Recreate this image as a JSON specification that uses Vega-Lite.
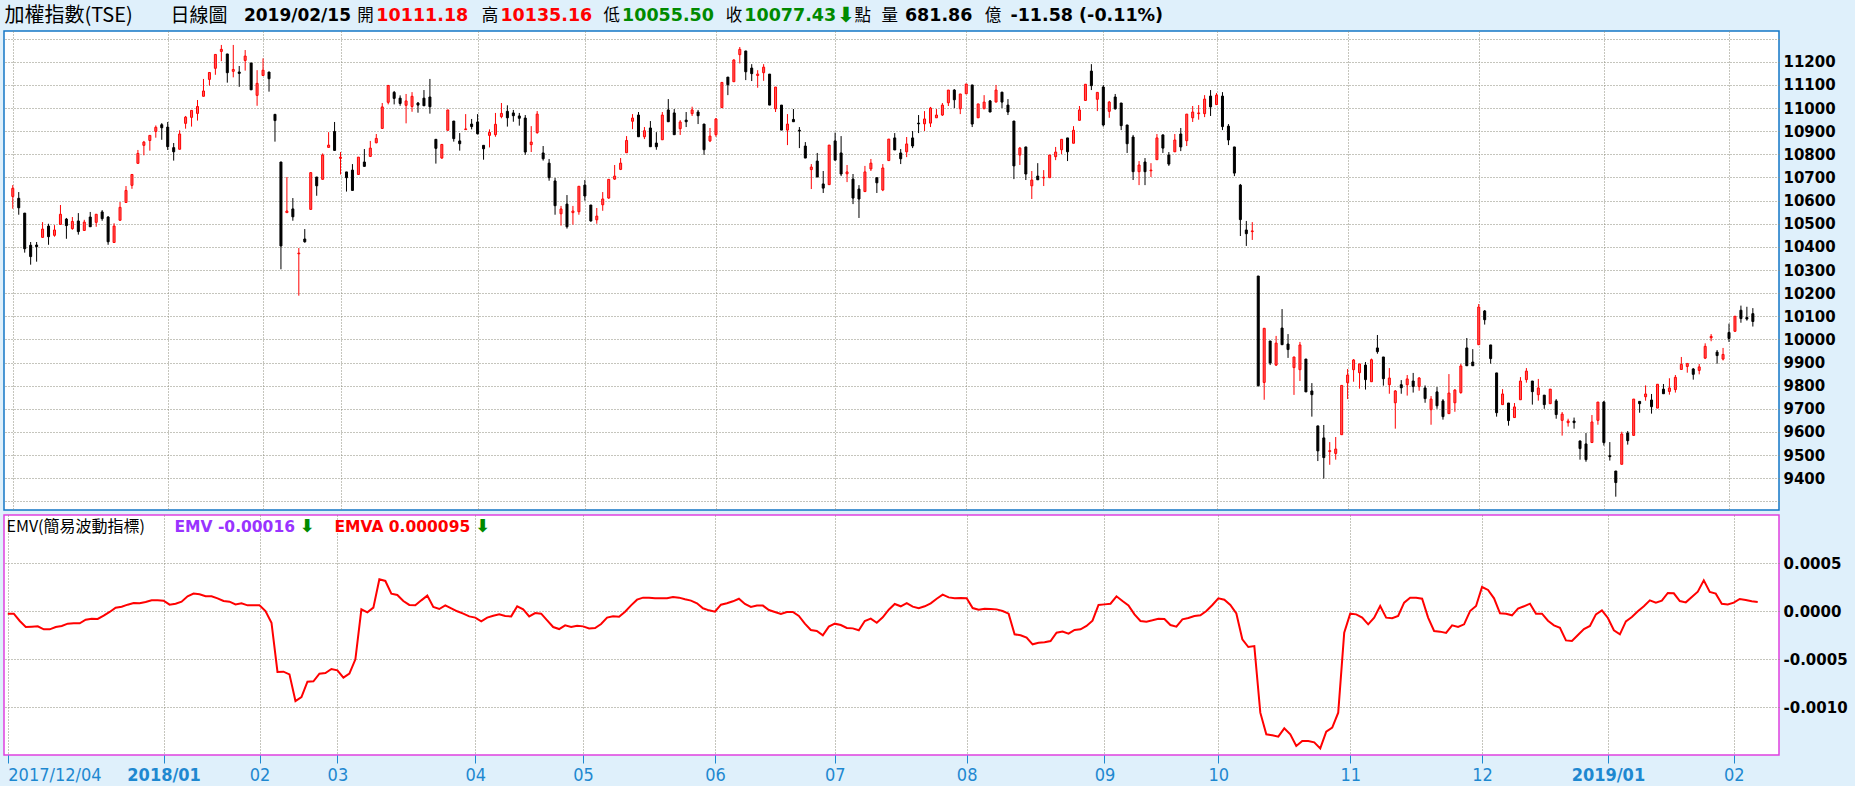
{
"$schema": "https://vega.github.io/schema/vega-lite/v6.json",
"background": "#dff0fb",
"padding": {"left": 3, "top": 0, "right": 12, "bottom": 10},
"spacing": 3,
"config": {"axis": {"gridColor": "#8a8a7a", "gridDash": [1, 2], "gridWidth": 1}, "text": {"align": "left", "baseline": "middle"}},
"datasets": {
"quote": [{"name": "加權指數(TSE)", "period": "日線圖", "date": "2019/02/15", "open": "10111.18", "high": "10135.16", "low": "10055.50", "close": "10077.43", "volume": "681.86", "change": "-11.58 (-0.11%)", "indicator": "EMV(簡易波動指標)", "emvText": "EMV -0.00016", "emvaText": "EMVA 0.000095"}],
"ohlc": [
{"i":0,"o":10618,"h":10667,"l":10565,"c":10653},{"i":1,"o":10610,"h":10637,"l":10539,"c":10569},{"i":2,"o":10546,"h":10546,"l":10375,"c":10392},{"i":3,"o":10407,"h":10421,"l":10323,"c":10358},{"i":4,"o":10408,"h":10421,"l":10336,"c":10401},{"i":5,"o":10441,"h":10507,"l":10441,"c":10477},{"i":6,"o":10490,"h":10500,"l":10409,"c":10444},{"i":7,"o":10450,"h":10494,"l":10444,"c":10473},{"i":8,"o":10497,"h":10581,"l":10497,"c":10541},{"i":9,"o":10520,"h":10525,"l":10435,"c":10492},
{"i":10,"o":10479,"h":10529,"l":10474,"c":10510},{"i":11,"o":10512,"h":10546,"l":10453,"c":10466},{"i":12,"o":10471,"h":10517,"l":10471,"c":10507},{"i":13,"o":10529,"h":10551,"l":10487,"c":10487},{"i":14,"o":10506,"h":10541,"l":10487,"c":10541},{"i":15,"o":10551,"h":10559,"l":10513,"c":10522},{"i":16,"o":10529,"h":10533,"l":10409,"c":10422},{"i":17,"o":10419,"h":10502,"l":10419,"c":10490},{"i":18,"o":10515,"h":10594,"l":10515,"c":10571},{"i":19,"o":10592,"h":10663,"l":10592,"c":10644},
{"i":20,"o":10666,"h":10713,"l":10651,"c":10713},{"i":21,"o":10761,"h":10819,"l":10761,"c":10804},{"i":22,"o":10839,"h":10858,"l":10796,"c":10853},{"i":23,"o":10860,"h":10882,"l":10816,"c":10882},{"i":24,"o":10899,"h":10925,"l":10872,"c":10917},{"i":25,"o":10928,"h":10935,"l":10863,"c":10915},{"i":26,"o":10918,"h":10940,"l":10819,"c":10833},{"i":27,"o":10829,"h":10849,"l":10773,"c":10811},{"i":28,"o":10822,"h":10904,"l":10822,"c":10888},{"i":29,"o":10934,"h":10966,"l":10911,"c":10961},
{"i":30,"o":10960,"h":10990,"l":10920,"c":10990},{"i":31,"o":10977,"h":11035,"l":10946,"c":11007},{"i":32,"o":11051,"h":11126,"l":11051,"c":11074},{"i":33,"o":11124,"h":11154,"l":11097,"c":11154},{"i":34,"o":11172,"h":11232,"l":11144,"c":11232},{"i":35,"o":11245,"h":11273,"l":11203,"c":11254},{"i":36,"o":11234,"h":11234,"l":11110,"c":11153},{"i":37,"o":11159,"h":11273,"l":11133,"c":11167},{"i":38,"o":11156,"h":11182,"l":11092,"c":11150},{"i":39,"o":11206,"h":11251,"l":11162,"c":11225},
{"i":40,"o":11195,"h":11195,"l":11079,"c":11079},{"i":41,"o":11055,"h":11164,"l":11010,"c":11107},{"i":42,"o":11141,"h":11215,"l":11141,"c":11164},{"i":43,"o":11156,"h":11156,"l":11071,"c":11127},{"i":44,"o":10973,"h":10973,"l":10855,"c":10946},{"i":45,"o":10767,"h":10767,"l":10303,"c":10404},{"i":46,"o":10548,"h":10702,"l":10548,"c":10555},{"i":47,"o":10564,"h":10611,"l":10513,"c":10530},{"i":48,"o":10370,"h":10395,"l":10189,"c":10373},{"i":49,"o":10434,"h":10477,"l":10418,"c":10422},
{"i":50,"o":10562,"h":10723,"l":10562,"c":10721},{"i":51,"o":10702,"h":10702,"l":10621,"c":10664},{"i":52,"o":10692,"h":10804,"l":10692,"c":10797},{"i":53,"o":10830,"h":10896,"l":10830,"c":10840},{"i":54,"o":10899,"h":10940,"l":10817,"c":10817},{"i":55,"o":10783,"h":10810,"l":10713,"c":10788},{"i":56,"o":10724,"h":10724,"l":10639,"c":10699},{"i":57,"o":10732,"h":10758,"l":10644,"c":10644},{"i":58,"o":10713,"h":10788,"l":10713,"c":10788},{"i":59,"o":10767,"h":10823,"l":10748,"c":10748},
{"i":60,"o":10791,"h":10858,"l":10791,"c":10827},{"i":61,"o":10850,"h":10888,"l":10848,"c":10869},{"i":62,"o":10912,"h":11022,"l":10912,"c":11005},{"i":63,"o":11025,"h":11098,"l":11016,"c":11098},{"i":64,"o":11068,"h":11074,"l":11016,"c":11042},{"i":65,"o":11043,"h":11055,"l":11010,"c":11020},{"i":66,"o":11012,"h":11061,"l":10934,"c":11031},{"i":67,"o":11007,"h":11069,"l":10984,"c":11051},{"i":68,"o":11022,"h":11026,"l":10980,"c":11013},{"i":69,"o":11043,"h":11078,"l":11010,"c":11010},
{"i":70,"o":11048,"h":11126,"l":10976,"c":11006},{"i":71,"o":10865,"h":10865,"l":10760,"c":10826},{"i":72,"o":10784,"h":10843,"l":10781,"c":10843},{"i":73,"o":10904,"h":10992,"l":10904,"c":10992},{"i":74,"o":10944,"h":10944,"l":10855,"c":10868},{"i":75,"o":10858,"h":10892,"l":10816,"c":10846},{"i":76,"o":10907,"h":10974,"l":10907,"c":10910},{"i":77,"o":10931,"h":10953,"l":10908,"c":10920},{"i":78,"o":10940,"h":10974,"l":10886,"c":10889},{"i":79,"o":10839,"h":10839,"l":10777,"c":10824},
{"i":80,"o":10882,"h":10908,"l":10830,"c":10895},{"i":81,"o":10885,"h":10979,"l":10876,"c":10930},{"i":82,"o":10963,"h":11022,"l":10956,"c":10977},{"i":83,"o":10986,"h":11012,"l":10920,"c":10958},{"i":84,"o":10979,"h":10992,"l":10941,"c":10967},{"i":85,"o":10966,"h":10979,"l":10924,"c":10956},{"i":86,"o":10957,"h":10970,"l":10798,"c":10810},{"i":87,"o":10842,"h":10922,"l":10810,"c":10853},{"i":88,"o":10894,"h":10987,"l":10889,"c":10974},{"i":89,"o":10806,"h":10836,"l":10773,"c":10781},
{"i":90,"o":10762,"h":10780,"l":10686,"c":10699},{"i":91,"o":10685,"h":10698,"l":10539,"c":10578},{"i":92,"o":10543,"h":10577,"l":10492,"c":10564},{"i":93,"o":10585,"h":10624,"l":10479,"c":10487},{"i":94,"o":10548,"h":10577,"l":10496,"c":10555},{"i":95,"o":10552,"h":10662,"l":10539,"c":10662},{"i":96,"o":10667,"h":10689,"l":10600,"c":10620},{"i":97,"o":10581,"h":10581,"l":10509,"c":10512},{"i":98,"o":10517,"h":10568,"l":10500,"c":10533},{"i":99,"o":10582,"h":10637,"l":10556,"c":10607},
{"i":100,"o":10611,"h":10692,"l":10608,"c":10692},{"i":101,"o":10693,"h":10754,"l":10690,"c":10706},{"i":102,"o":10735,"h":10784,"l":10732,"c":10762},{"i":103,"o":10807,"h":10879,"l":10807,"c":10860},{"i":104,"o":10943,"h":10974,"l":10909,"c":10957},{"i":105,"o":10970,"h":10983,"l":10876,"c":10876},{"i":106,"o":10876,"h":10918,"l":10866,"c":10902},{"i":107,"o":10914,"h":10944,"l":10833,"c":10833},{"i":108,"o":10849,"h":10896,"l":10820,"c":10833},{"i":109,"o":10863,"h":10983,"l":10863,"c":10970},
{"i":110,"o":10992,"h":11039,"l":10941,"c":10941},{"i":111,"o":10979,"h":10996,"l":10885,"c":10885},{"i":112,"o":10911,"h":10948,"l":10884,"c":10940},{"i":113,"o":10948,"h":10983,"l":10918,"c":10941},{"i":114,"o":10976,"h":11006,"l":10966,"c":10992},{"i":115,"o":10983,"h":10992,"l":10931,"c":10967},{"i":116,"o":10931,"h":10931,"l":10798,"c":10820},{"i":117,"o":10858,"h":10914,"l":10853,"c":10879},{"i":118,"o":10885,"h":10957,"l":10876,"c":10953},{"i":119,"o":11002,"h":11111,"l":11002,"c":11111},
{"i":120,"o":11134,"h":11134,"l":11056,"c":11101},{"i":121,"o":11114,"h":11211,"l":11114,"c":11208},{"i":122,"o":11231,"h":11264,"l":11193,"c":11254},{"i":123,"o":11247,"h":11247,"l":11121,"c":11157},{"i":124,"o":11173,"h":11190,"l":11117,"c":11149},{"i":125,"o":11141,"h":11164,"l":11088,"c":11147},{"i":126,"o":11153,"h":11190,"l":11118,"c":11177},{"i":127,"o":11147,"h":11147,"l":11013,"c":11013},{"i":128,"o":10997,"h":11091,"l":10983,"c":11091},{"i":129,"o":11013,"h":11013,"l":10905,"c":10905},
{"i":130,"o":10905,"h":10974,"l":10840,"c":10931},{"i":131,"o":10951,"h":10996,"l":10941,"c":10941},{"i":132,"o":10904,"h":10918,"l":10827,"c":10901},{"i":133,"o":10836,"h":10853,"l":10784,"c":10784},{"i":134,"o":10734,"h":10758,"l":10650,"c":10745},{"i":135,"o":10771,"h":10806,"l":10702,"c":10702},{"i":136,"o":10672,"h":10728,"l":10633,"c":10654},{"i":137,"o":10669,"h":10840,"l":10669,"c":10840},{"i":138,"o":10858,"h":10894,"l":10775,"c":10775},{"i":139,"o":10806,"h":10879,"l":10706,"c":10715},
{"i":140,"o":10716,"h":10754,"l":10680,"c":10724},{"i":141,"o":10693,"h":10715,"l":10585,"c":10611},{"i":142,"o":10650,"h":10667,"l":10525,"c":10607},{"i":143,"o":10639,"h":10750,"l":10639,"c":10724},{"i":144,"o":10737,"h":10780,"l":10728,"c":10762},{"i":145,"o":10699,"h":10699,"l":10633,"c":10677},{"i":146,"o":10646,"h":10758,"l":10641,"c":10741},{"i":147,"o":10773,"h":10866,"l":10773,"c":10866},{"i":148,"o":10871,"h":10892,"l":10819,"c":10819},{"i":149,"o":10806,"h":10823,"l":10758,"c":10781},
{"i":150,"o":10811,"h":10875,"l":10788,"c":10845},{"i":151,"o":10871,"h":10901,"l":10827,"c":10836},{"i":152,"o":10935,"h":10970,"l":10892,"c":10932},{"i":153,"o":10932,"h":10987,"l":10901,"c":10953},{"i":154,"o":10935,"h":11005,"l":10918,"c":11000},{"i":155,"o":10958,"h":10996,"l":10958,"c":10970},{"i":156,"o":10970,"h":11022,"l":10966,"c":11013},{"i":157,"o":11023,"h":11078,"l":11009,"c":11078},{"i":158,"o":11078,"h":11082,"l":11000,"c":11036},{"i":159,"o":10997,"h":11061,"l":10974,"c":11061},
{"i":160,"o":11062,"h":11104,"l":11062,"c":11104},{"i":161,"o":11100,"h":11100,"l":10918,"c":10931},{"i":162,"o":10958,"h":11018,"l":10958,"c":11018},{"i":163,"o":10997,"h":11056,"l":10997,"c":11026},{"i":164,"o":11031,"h":11035,"l":10983,"c":10983},{"i":165,"o":11026,"h":11100,"l":11026,"c":11078},{"i":166,"o":11069,"h":11069,"l":11000,"c":11026},{"i":167,"o":11013,"h":11039,"l":10970,"c":10983},{"i":168,"o":10944,"h":10944,"l":10693,"c":10750},{"i":169,"o":10797,"h":10832,"l":10754,"c":10827},
{"i":170,"o":10832,"h":10832,"l":10689,"c":10715},{"i":171,"o":10664,"h":10728,"l":10607,"c":10689},{"i":172,"o":10706,"h":10762,"l":10690,"c":10690},{"i":173,"o":10698,"h":10732,"l":10663,"c":10701},{"i":174,"o":10699,"h":10797,"l":10699,"c":10797},{"i":175,"o":10790,"h":10832,"l":10775,"c":10810},{"i":176,"o":10820,"h":10865,"l":10801,"c":10865},{"i":177,"o":10871,"h":10871,"l":10771,"c":10811},{"i":178,"o":10848,"h":10922,"l":10848,"c":10904},{"i":179,"o":10947,"h":11009,"l":10947,"c":10992},
{"i":180,"o":11033,"h":11103,"l":11033,"c":11103},{"i":181,"o":11160,"h":11190,"l":11078,"c":11097},{"i":182,"o":11038,"h":11068,"l":10987,"c":11068},{"i":183,"o":11091,"h":11100,"l":10920,"c":10927},{"i":184,"o":10986,"h":11031,"l":10958,"c":11026},{"i":185,"o":11048,"h":11061,"l":10993,"c":10997},{"i":186,"o":11022,"h":11022,"l":10905,"c":10924},{"i":187,"o":10927,"h":10927,"l":10806,"c":10846},{"i":188,"o":10875,"h":10884,"l":10689,"c":10725},{"i":189,"o":10725,"h":10771,"l":10667,"c":10754},
{"i":190,"o":10767,"h":10784,"l":10667,"c":10725},{"i":191,"o":10729,"h":10762,"l":10702,"c":10732},{"i":192,"o":10777,"h":10888,"l":10777,"c":10871},{"i":193,"o":10884,"h":10886,"l":10806,"c":10827},{"i":194,"o":10797,"h":10810,"l":10750,"c":10758},{"i":195,"o":10811,"h":10888,"l":10811,"c":10862},{"i":196,"o":10888,"h":10914,"l":10814,"c":10832},{"i":197,"o":10859,"h":10974,"l":10836,"c":10974},{"i":198,"o":10958,"h":11009,"l":10940,"c":10983},{"i":199,"o":10976,"h":11013,"l":10950,"c":10979},
{"i":200,"o":10976,"h":11056,"l":10961,"c":11039},{"i":201,"o":11052,"h":11078,"l":10966,"c":11005},{"i":202,"o":11015,"h":11065,"l":11015,"c":11056},{"i":203,"o":11052,"h":11069,"l":10905,"c":10920},{"i":204,"o":10922,"h":10931,"l":10840,"c":10862},{"i":205,"o":10832,"h":10832,"l":10706,"c":10719},{"i":206,"o":10667,"h":10672,"l":10447,"c":10518},{"i":207,"o":10473,"h":10512,"l":10404,"c":10457},{"i":208,"o":10466,"h":10507,"l":10430,"c":10469},{"i":209,"o":10274,"h":10274,"l":9796,"c":9800},
{"i":210,"o":9814,"h":10048,"l":9739,"c":10048},{"i":211,"o":9993,"h":9993,"l":9889,"c":9898},{"i":212,"o":9889,"h":10015,"l":9885,"c":9984},{"i":213,"o":10049,"h":10131,"l":9977,"c":9977},{"i":214,"o":9980,"h":10023,"l":9920,"c":9956},{"i":215,"o":9878,"h":9924,"l":9760,"c":9924},{"i":216,"o":9869,"h":9989,"l":9820,"c":9976},{"i":217,"o":9915,"h":9915,"l":9773,"c":9773},{"i":218,"o":9777,"h":9811,"l":9666,"c":9761},{"i":219,"o":9626,"h":9626,"l":9474,"c":9518},
{"i":220,"o":9574,"h":9630,"l":9398,"c":9489},{"i":221,"o":9515,"h":9556,"l":9458,"c":9519},{"i":222,"o":9507,"h":9578,"l":9480,"c":9526},{"i":223,"o":9588,"h":9801,"l":9588,"c":9801},{"i":224,"o":9813,"h":9872,"l":9742,"c":9846},{"i":225,"o":9869,"h":9915,"l":9817,"c":9911},{"i":226,"o":9856,"h":9894,"l":9787,"c":9894},{"i":227,"o":9889,"h":9902,"l":9783,"c":9826},{"i":228,"o":9817,"h":9917,"l":9817,"c":9912},{"i":229,"o":9963,"h":10019,"l":9938,"c":9947},
{"i":230,"o":9924,"h":9924,"l":9800,"c":9830},{"i":231,"o":9804,"h":9876,"l":9765,"c":9833},{"i":232,"o":9726,"h":9781,"l":9614,"c":9777},{"i":233,"o":9804,"h":9824,"l":9765,"c":9791},{"i":234,"o":9804,"h":9846,"l":9757,"c":9829},{"i":235,"o":9820,"h":9855,"l":9770,"c":9796},{"i":236,"o":9796,"h":9837,"l":9778,"c":9833},{"i":237,"o":9790,"h":9801,"l":9726,"c":9744},{"i":238,"o":9696,"h":9755,"l":9631,"c":9742},{"i":239,"o":9773,"h":9794,"l":9700,"c":9713},
{"i":240,"o":9734,"h":9742,"l":9653,"c":9666},{"i":241,"o":9679,"h":9850,"l":9679,"c":9768},{"i":242,"o":9726,"h":9785,"l":9687,"c":9781},{"i":243,"o":9770,"h":9894,"l":9765,"c":9885},{"i":244,"o":9963,"h":10006,"l":9886,"c":9886},{"i":245,"o":9902,"h":9958,"l":9886,"c":9886},{"i":246,"o":9977,"h":10153,"l":9977,"c":10140},{"i":247,"o":10123,"h":10127,"l":10064,"c":10085},{"i":248,"o":9976,"h":9976,"l":9895,"c":9917},{"i":249,"o":9855,"h":9855,"l":9666,"c":9683},
{"i":250,"o":9718,"h":9785,"l":9718,"c":9764},{"i":251,"o":9725,"h":9725,"l":9627,"c":9649},{"i":252,"o":9662,"h":9725,"l":9662,"c":9708},{"i":253,"o":9739,"h":9837,"l":9739,"c":9820},{"i":254,"o":9826,"h":9876,"l":9813,"c":9863},{"i":255,"o":9820,"h":9820,"l":9718,"c":9774},{"i":256,"o":9761,"h":9829,"l":9735,"c":9790},{"i":257,"o":9759,"h":9759,"l":9700,"c":9718},{"i":258,"o":9722,"h":9785,"l":9722,"c":9785},{"i":259,"o":9734,"h":9742,"l":9657,"c":9675},
{"i":260,"o":9650,"h":9686,"l":9584,"c":9677},{"i":261,"o":9640,"h":9657,"l":9623,"c":9647},{"i":262,"o":9647,"h":9662,"l":9614,"c":9640},{"i":263,"o":9561,"h":9561,"l":9480,"c":9528},{"i":264,"o":9548,"h":9595,"l":9471,"c":9480},{"i":265,"o":9554,"h":9673,"l":9554,"c":9643},{"i":266,"o":9650,"h":9729,"l":9631,"c":9729},{"i":267,"o":9729,"h":9734,"l":9541,"c":9554},{"i":268,"o":9497,"h":9556,"l":9476,"c":9493},{"i":269,"o":9431,"h":9431,"l":9320,"c":9381},
{"i":270,"o":9460,"h":9601,"l":9460,"c":9591},{"i":271,"o":9595,"h":9604,"l":9545,"c":9562},{"i":272,"o":9585,"h":9742,"l":9585,"c":9742},{"i":273,"o":9732,"h":9732,"l":9683,"c":9722},{"i":274,"o":9752,"h":9801,"l":9735,"c":9764},{"i":275,"o":9738,"h":9764,"l":9679,"c":9709},{"i":276,"o":9703,"h":9806,"l":9703,"c":9806},{"i":277,"o":9785,"h":9807,"l":9765,"c":9765},{"i":278,"o":9775,"h":9832,"l":9761,"c":9790},{"i":279,"o":9783,"h":9846,"l":9770,"c":9836},
{"i":280,"o":9870,"h":9924,"l":9870,"c":9892},{"i":281,"o":9883,"h":9896,"l":9856,"c":9896},{"i":282,"o":9872,"h":9876,"l":9826,"c":9849},{"i":283,"o":9866,"h":9894,"l":9849,"c":9881},{"i":284,"o":9919,"h":9983,"l":9915,"c":9970},{"i":285,"o":10007,"h":10023,"l":9992,"c":10013},{"i":286,"o":9945,"h":9954,"l":9895,"c":9930},{"i":287,"o":9915,"h":9963,"l":9909,"c":9935},{"i":288,"o":10030,"h":10068,"l":9989,"c":10004},{"i":289,"o":10035,"h":10100,"l":10035,"c":10100},
{"i":290,"o":10126,"h":10146,"l":10072,"c":10090},{"i":291,"o":10095,"h":10141,"l":10081,"c":10088},{"i":292,"o":10111.18,"h":10135.16,"l":10055.5,"c":10077.43}
],
"emvaLine": [
{"i":0,"v":-0.000028},{"i":1,"v":-0.000028},{"i":2,"v":-0.000104},{"i":3,"v":-0.000167},{"i":4,"v":-0.000163},{"i":5,"v":-0.00016},{"i":6,"v":-0.000191},{"i":7,"v":-0.000191},{"i":8,"v":-0.000167},{"i":9,"v":-0.000156},
{"i":10,"v":-0.000132},{"i":11,"v":-0.000128},{"i":12,"v":-0.000128},{"i":13,"v":-0.00009},{"i":14,"v":-0.00008},{"i":15,"v":-0.000083},{"i":16,"v":-0.000049},{"i":17,"v":-0.00001},{"i":18,"v":0.000035},{"i":19,"v":0.000045},
{"i":20,"v":0.000066},{"i":21,"v":0.000083},{"i":22,"v":0.00008},{"i":23,"v":0.000094},{"i":24,"v":0.000111},{"i":25,"v":0.000111},{"i":26,"v":0.000108},{"i":27,"v":0.000066},{"i":28,"v":0.000076},{"i":29,"v":0.000097},
{"i":30,"v":0.000153},{"i":31,"v":0.000181},{"i":32,"v":0.000174},{"i":33,"v":0.000153},{"i":34,"v":0.000153},{"i":35,"v":0.000132},{"i":36,"v":0.000104},{"i":37,"v":0.000097},{"i":38,"v":0.000069},{"i":39,"v":0.00008},
{"i":40,"v":0.000059},{"i":41,"v":0.000059},{"i":42,"v":0.000059},{"i":43,"v":0.0},{"i":44,"v":-0.000122},{"i":45,"v":-0.000635},{"i":46,"v":-0.000632},{"i":47,"v":-0.00066},{"i":48,"v":-0.000938},{"i":49,"v":-0.000896},
{"i":50,"v":-0.000736},{"i":51,"v":-0.000733},{"i":52,"v":-0.000653},{"i":53,"v":-0.000646},{"i":54,"v":-0.000604},{"i":55,"v":-0.000618},{"i":56,"v":-0.000694},{"i":57,"v":-0.000653},{"i":58,"v":-0.000503},{"i":59,"v":0.000017},
{"i":60,"v":-0.000014},{"i":61,"v":0.000035},{"i":62,"v":0.00033},{"i":63,"v":0.000313},{"i":64,"v":0.000181},{"i":65,"v":0.000167},{"i":66,"v":0.000104},{"i":67,"v":0.000063},{"i":68,"v":0.000059},{"i":69,"v":0.000111},
{"i":70,"v":0.00016},{"i":71,"v":0.000042},{"i":72,"v":0.000021},{"i":73,"v":0.000059},{"i":74,"v":0.000028},{"i":75,"v":-0.000003},{"i":76,"v":-0.000028},{"i":77,"v":-0.000056},{"i":78,"v":-0.000069},{"i":79,"v":-0.000108},
{"i":80,"v":-0.000069},{"i":81,"v":-0.000049},{"i":82,"v":-0.000035},{"i":83,"v":-0.000052},{"i":84,"v":-0.000056},{"i":85,"v":0.000049},{"i":86,"v":0.000017},{"i":87,"v":-0.000056},{"i":88,"v":-0.000021},{"i":89,"v":-0.000028},
{"i":90,"v":-0.000097},{"i":91,"v":-0.000167},{"i":92,"v":-0.000188},{"i":93,"v":-0.000149},{"i":94,"v":-0.000167},{"i":95,"v":-0.000153},{"i":96,"v":-0.00016},{"i":97,"v":-0.000181},{"i":98,"v":-0.000177},{"i":99,"v":-0.000135},
{"i":100,"v":-0.000069},{"i":101,"v":-0.000056},{"i":102,"v":-0.000059},{"i":103,"v":-0.000007},{"i":104,"v":0.000059},{"i":105,"v":0.000118},{"i":106,"v":0.000139},{"i":107,"v":0.000139},{"i":108,"v":0.000132},{"i":109,"v":0.000132},
{"i":110,"v":0.000132},{"i":111,"v":0.000146},{"i":112,"v":0.000139},{"i":113,"v":0.000122},{"i":114,"v":0.000108},{"i":115,"v":0.00008},{"i":116,"v":0.000028},{"i":117,"v":0.000007},{"i":118,"v":-0.000007},{"i":119,"v":0.000066},
{"i":120,"v":0.00008},{"i":121,"v":0.000101},{"i":122,"v":0.000128},{"i":123,"v":0.000073},{"i":124,"v":0.000042},{"i":125,"v":0.000056},{"i":126,"v":0.000056},{"i":127,"v":0.00001},{"i":128,"v":-0.00001},{"i":129,"v":-0.000031},
{"i":130,"v":-0.00001},{"i":131,"v":-0.00001},{"i":132,"v":-0.000052},{"i":133,"v":-0.000132},{"i":134,"v":-0.000198},{"i":135,"v":-0.000208},{"i":136,"v":-0.000253},{"i":137,"v":-0.000163},{"i":138,"v":-0.000132},{"i":139,"v":-0.000146},
{"i":140,"v":-0.000177},{"i":141,"v":-0.000181},{"i":142,"v":-0.000201},{"i":143,"v":-0.000104},{"i":144,"v":-0.00008},{"i":145,"v":-0.000122},{"i":146,"v":-0.000066},{"i":147,"v":0.000014},{"i":148,"v":0.000073},{"i":149,"v":0.000049},
{"i":150,"v":0.000083},{"i":151,"v":0.000045},{"i":152,"v":0.000028},{"i":153,"v":0.000049},{"i":154,"v":0.00008},{"i":155,"v":0.000128},{"i":156,"v":0.00017},{"i":157,"v":0.000142},{"i":158,"v":0.000132},{"i":159,"v":0.000135},
{"i":160,"v":0.000132},{"i":161,"v":0.000031},{"i":162,"v":0.000014},{"i":163,"v":0.000024},{"i":164,"v":0.000021},{"i":165,"v":0.000017},{"i":166,"v":0.0},{"i":167,"v":-0.000028},{"i":168,"v":-0.000243},{"i":169,"v":-0.000253},
{"i":170,"v":-0.000278},{"i":171,"v":-0.000347},{"i":172,"v":-0.00033},{"i":173,"v":-0.000326},{"i":174,"v":-0.000313},{"i":175,"v":-0.000226},{"i":176,"v":-0.000215},{"i":177,"v":-0.000236},{"i":178,"v":-0.000198},{"i":179,"v":-0.000191},
{"i":180,"v":-0.000156},{"i":181,"v":-0.000101},{"i":182,"v":0.000063},{"i":183,"v":0.000069},{"i":184,"v":0.000076},{"i":185,"v":0.000153},{"i":186,"v":0.000104},{"i":187,"v":0.000059},{"i":188,"v":-0.000035},{"i":189,"v":-0.000104},
{"i":190,"v":-0.000111},{"i":191,"v":-0.000097},{"i":192,"v":-0.00008},{"i":193,"v":-0.000083},{"i":194,"v":-0.000146},{"i":195,"v":-0.000163},{"i":196,"v":-0.000087},{"i":197,"v":-0.000073},{"i":198,"v":-0.000052},{"i":199,"v":-0.000045},
{"i":200,"v":0.0},{"i":201,"v":0.000063},{"i":202,"v":0.000132},{"i":203,"v":0.000118},{"i":204,"v":0.000063},{"i":205,"v":-0.000025},{"i":206,"v":-0.000295},{"i":207,"v":-0.000375},{"i":208,"v":-0.000365},{"i":209,"v":-0.001059},
{"i":210,"v":-0.001285},{"i":211,"v":-0.001295},{"i":212,"v":-0.001309},{"i":213,"v":-0.001222},{"i":214,"v":-0.001285},{"i":215,"v":-0.001406},{"i":216,"v":-0.001354},{"i":217,"v":-0.001354},{"i":218,"v":-0.001368},{"i":219,"v":-0.001431},
{"i":220,"v":-0.001257},{"i":221,"v":-0.001215},{"i":222,"v":-0.001059},{"i":223,"v":-0.000226},{"i":224,"v":-0.000028},{"i":225,"v":-0.000035},{"i":226,"v":-0.000069},{"i":227,"v":-0.000139},{"i":228,"v":-0.000069},{"i":229,"v":0.000052},
{"i":230,"v":-0.000069},{"i":231,"v":-0.000076},{"i":232,"v":-0.000052},{"i":233,"v":0.000087},{"i":234,"v":0.000139},{"i":235,"v":0.000139},{"i":236,"v":0.000128},{"i":237,"v":-0.000069},{"i":238,"v":-0.000208},{"i":239,"v":-0.000215},
{"i":240,"v":-0.000229},{"i":241,"v":-0.000149},{"i":242,"v":-0.000167},{"i":243,"v":-0.000139},{"i":244,"v":0.0},{"i":245,"v":0.000052},{"i":246,"v":0.00025},{"i":247,"v":0.000219},{"i":248,"v":0.000132},{"i":249,"v":-0.000024},
{"i":250,"v":-0.000028},{"i":251,"v":-0.000045},{"i":252,"v":0.000024},{"i":253,"v":0.000049},{"i":254,"v":0.000076},{"i":255,"v":-0.000028},{"i":256,"v":-0.000028},{"i":257,"v":-0.000101},{"i":258,"v":-0.000149},{"i":259,"v":-0.000174},
{"i":260,"v":-0.000306},{"i":261,"v":-0.000313},{"i":262,"v":-0.00025},{"i":263,"v":-0.000188},{"i":264,"v":-0.000156},{"i":265,"v":-0.000035},{"i":266,"v":0.000007},{"i":267,"v":-0.000073},{"i":268,"v":-0.000201},{"i":269,"v":-0.000243},
{"i":270,"v":-0.000108},{"i":271,"v":-0.000063},{"i":272,"v":-0.000003},{"i":273,"v":0.000049},{"i":274,"v":0.000111},{"i":275,"v":0.000087},{"i":276,"v":0.000108},{"i":277,"v":0.000188},{"i":278,"v":0.000184},{"i":279,"v":0.000104},
{"i":280,"v":0.00009},{"i":281,"v":0.000146},{"i":282,"v":0.000201},{"i":283,"v":0.000319},{"i":284,"v":0.000198},{"i":285,"v":0.000181},{"i":286,"v":0.000076},{"i":287,"v":0.000069},{"i":288,"v":0.000087},{"i":289,"v":0.000125},
{"i":290,"v":0.000115},{"i":291,"v":0.000101},{"i":292,"v":0.000095}
]
},
"vconcat": [
{
"width": 1775, "height": 27,
"view": {"stroke": null, "fill": null},
"data": {"name": "quote"},
"layer": [
{"mark": {"type": "text", "font": "Noto Sans CJK TC", "fontSize": 20, "color": "#000000"}, "encoding": {"text": {"field": "name", "type": "nominal"}, "x": {"datum": -0.55, "type": "quantitative", "scale": {"domain": [-0.634, 295.55], "nice": false, "zero": false}, "axis": null}, "y": {"datum": 15.5, "type": "quantitative", "scale": {"domain": [0, 27], "reverse": true, "nice": false, "zero": false}, "axis": null}}},
{"mark": {"type": "text", "font": "Noto Sans CJK TC", "fontSize": 19, "color": "#000000"}, "encoding": {"text": {"field": "period", "type": "nominal"}, "x": {"datum": 27.15, "type": "quantitative", "scale": {"domain": [-0.634, 295.55], "nice": false, "zero": false}, "axis": null}, "y": {"datum": 15.5, "type": "quantitative", "scale": {"domain": [0, 27], "reverse": true, "nice": false, "zero": false}, "axis": null}}},
{"mark": {"type": "text", "font": "DejaVu Sans", "fontWeight": "bold", "fontSize": 17, "color": "#000000"}, "encoding": {"text": {"field": "date", "type": "nominal"}, "x": {"datum": 39.4, "type": "quantitative", "scale": {"domain": [-0.634, 295.55], "nice": false, "zero": false}, "axis": null}, "y": {"datum": 15.5, "type": "quantitative", "scale": {"domain": [0, 27], "reverse": true, "nice": false, "zero": false}, "axis": null}}},
{"mark": {"type": "text", "text": "開", "font": "Noto Sans CJK TC", "fontSize": 16.5, "color": "#000000"}, "encoding": {"x": {"datum": 58.3, "type": "quantitative", "scale": {"domain": [-0.634, 295.55], "nice": false, "zero": false}, "axis": null}, "y": {"datum": 15.5, "type": "quantitative", "scale": {"domain": [0, 27], "reverse": true, "nice": false, "zero": false}, "axis": null}}},
{"mark": {"type": "text", "font": "DejaVu Sans", "fontWeight": "bold", "fontSize": 17.5, "color": "#ff0000"}, "encoding": {"text": {"field": "open", "type": "nominal"}, "x": {"datum": 61.5, "type": "quantitative", "scale": {"domain": [-0.634, 295.55], "nice": false, "zero": false}, "axis": null}, "y": {"datum": 15.5, "type": "quantitative", "scale": {"domain": [0, 27], "reverse": true, "nice": false, "zero": false}, "axis": null}}},
{"mark": {"type": "text", "text": "高", "font": "Noto Sans CJK TC", "fontSize": 16.5, "color": "#000000"}, "encoding": {"x": {"datum": 79.1, "type": "quantitative", "scale": {"domain": [-0.634, 295.55], "nice": false, "zero": false}, "axis": null}, "y": {"datum": 15.5, "type": "quantitative", "scale": {"domain": [0, 27], "reverse": true, "nice": false, "zero": false}, "axis": null}}},
{"mark": {"type": "text", "font": "DejaVu Sans", "fontWeight": "bold", "fontSize": 17.5, "color": "#ff0000"}, "encoding": {"text": {"field": "high", "type": "nominal"}, "x": {"datum": 82.2, "type": "quantitative", "scale": {"domain": [-0.634, 295.55], "nice": false, "zero": false}, "axis": null}, "y": {"datum": 15.5, "type": "quantitative", "scale": {"domain": [0, 27], "reverse": true, "nice": false, "zero": false}, "axis": null}}},
{"mark": {"type": "text", "text": "低", "font": "Noto Sans CJK TC", "fontSize": 16.5, "color": "#000000"}, "encoding": {"x": {"datum": 99.4, "type": "quantitative", "scale": {"domain": [-0.634, 295.55], "nice": false, "zero": false}, "axis": null}, "y": {"datum": 15.5, "type": "quantitative", "scale": {"domain": [0, 27], "reverse": true, "nice": false, "zero": false}, "axis": null}}},
{"mark": {"type": "text", "font": "DejaVu Sans", "fontWeight": "bold", "fontSize": 17.5, "color": "#008a00"}, "encoding": {"text": {"field": "low", "type": "nominal"}, "x": {"datum": 102.5, "type": "quantitative", "scale": {"domain": [-0.634, 295.55], "nice": false, "zero": false}, "axis": null}, "y": {"datum": 15.5, "type": "quantitative", "scale": {"domain": [0, 27], "reverse": true, "nice": false, "zero": false}, "axis": null}}},
{"mark": {"type": "text", "text": "收", "font": "Noto Sans CJK TC", "fontSize": 16.5, "color": "#000000"}, "encoding": {"x": {"datum": 119.8, "type": "quantitative", "scale": {"domain": [-0.634, 295.55], "nice": false, "zero": false}, "axis": null}, "y": {"datum": 15.5, "type": "quantitative", "scale": {"domain": [0, 27], "reverse": true, "nice": false, "zero": false}, "axis": null}}},
{"mark": {"type": "text", "font": "DejaVu Sans", "fontWeight": "bold", "fontSize": 17.5, "color": "#008a00"}, "encoding": {"text": {"field": "close", "type": "nominal"}, "x": {"datum": 122.9, "type": "quantitative", "scale": {"domain": [-0.634, 295.55], "nice": false, "zero": false}, "axis": null}, "y": {"datum": 15.5, "type": "quantitative", "scale": {"domain": [0, 27], "reverse": true, "nice": false, "zero": false}, "axis": null}}},
{"mark": {"type": "text", "text": "⬇", "font": "DejaVu Sans", "fontWeight": "bold", "fontSize": 21, "color": "#008a00"}, "encoding": {"x": {"datum": 138.4, "type": "quantitative", "scale": {"domain": [-0.634, 295.55], "nice": false, "zero": false}, "axis": null}, "y": {"datum": 15.5, "type": "quantitative", "scale": {"domain": [0, 27], "reverse": true, "nice": false, "zero": false}, "axis": null}}},
{"mark": {"type": "text", "text": "點", "font": "Noto Sans CJK TC", "fontSize": 16.5, "color": "#000000"}, "encoding": {"x": {"datum": 141.3, "type": "quantitative", "scale": {"domain": [-0.634, 295.55], "nice": false, "zero": false}, "axis": null}, "y": {"datum": 15.5, "type": "quantitative", "scale": {"domain": [0, 27], "reverse": true, "nice": false, "zero": false}, "axis": null}}},
{"mark": {"type": "text", "text": "量", "font": "Noto Sans CJK TC", "fontSize": 16.5, "color": "#000000"}, "encoding": {"x": {"datum": 145.8, "type": "quantitative", "scale": {"domain": [-0.634, 295.55], "nice": false, "zero": false}, "axis": null}, "y": {"datum": 15.5, "type": "quantitative", "scale": {"domain": [0, 27], "reverse": true, "nice": false, "zero": false}, "axis": null}}},
{"mark": {"type": "text", "font": "DejaVu Sans", "fontWeight": "bold", "fontSize": 17.5, "color": "#000000"}, "encoding": {"text": {"field": "volume", "type": "nominal"}, "x": {"datum": 149.7, "type": "quantitative", "scale": {"domain": [-0.634, 295.55], "nice": false, "zero": false}, "axis": null}, "y": {"datum": 15.5, "type": "quantitative", "scale": {"domain": [0, 27], "reverse": true, "nice": false, "zero": false}, "axis": null}}},
{"mark": {"type": "text", "text": "億", "font": "Noto Sans CJK TC", "fontSize": 16.5, "color": "#000000"}, "encoding": {"x": {"datum": 163.0, "type": "quantitative", "scale": {"domain": [-0.634, 295.55], "nice": false, "zero": false}, "axis": null}, "y": {"datum": 15.5, "type": "quantitative", "scale": {"domain": [0, 27], "reverse": true, "nice": false, "zero": false}, "axis": null}}},
{"mark": {"type": "text", "font": "DejaVu Sans", "fontWeight": "bold", "fontSize": 17.5, "color": "#000000"}, "encoding": {"text": {"field": "change", "type": "nominal"}, "x": {"datum": 167.3, "type": "quantitative", "scale": {"domain": [-0.634, 295.55], "nice": false, "zero": false}, "axis": null}, "y": {"datum": 15.5, "type": "quantitative", "scale": {"domain": [0, 27], "reverse": true, "nice": false, "zero": false}, "axis": null}}}
]
},
{
"width": 1775, "height": 479,
"view": {"fill": "#ffffff", "stroke": "#1577c6", "strokeWidth": 1.5},
"data": {"name": "ohlc"},
"resolve": {"axis": {"y": "independent"}},
"encoding": {"x": {"field": "i", "type": "quantitative", "scale": {"domain": [-0.634, 295.55], "nice": false, "zero": false}, "axis": {"orient": "bottom", "values": [0, 26, 42, 55, 78, 96, 118, 138, 160, 183, 202, 224, 246, 267, 288], "grid": true, "labels": false, "ticks": false, "domain": false, "title": null}}},
"layer": [
{"mark": {"type": "rule", "strokeWidth": 1}, "encoding": {"y": {"field": "l", "type": "quantitative", "scale": {"domain": [9262.4, 11333.3], "nice": false, "zero": false}, "axis": {"orient": "right", "values": [9300, 9400, 9500, 9600, 9700, 9800, 9900, 10000, 10100, 10200, 10300, 10400, 10500, 10600, 10700, 10800, 10900, 11000, 11100, 11200, 11300], "format": "d", "labelExpr": "datum.value < 9350 || datum.value > 11250 ? '' : datum.label", "grid": true, "ticks": false, "domain": false, "title": null, "labelPadding": 4, "labelFont": "DejaVu Sans", "labelFontWeight": "bold", "labelFontSize": 15, "labelColor": "#000000", "labelAlign": "left", "labelBaseline": "middle", "labelOverlap": false, "labelBound": false}}, "y2": {"field": "h"}, "color": {"condition": {"test": "datum.c >= datum.o", "value": "#ff0000"}, "value": "#000000"}}},
{"mark": {"type": "bar", "width": 2, "strokeWidth": 1}, "encoding": {"y": {"field": "o", "type": "quantitative", "scale": {"domain": [9262.4, 11333.3], "nice": false, "zero": false}, "axis": null}, "y2": {"field": "c"}, "fill": {"condition": {"test": "datum.c >= datum.o", "value": "#ff5a5a"}, "value": "#000000"}, "stroke": {"condition": {"test": "datum.c >= datum.o", "value": "#ff0000"}, "value": "#000000"}}}
]
},
{
"width": 1775, "height": 240,
"view": {"fill": "#ffffff", "stroke": "#e040e0", "strokeWidth": 1.5},
"resolve": {"axis": {"x": "independent", "y": "independent"}},
"layer": [
{"data": {"name": "emvaLine"}, "mark": {"type": "line", "color": "#ff0000", "strokeWidth": 2}, "encoding": {"x": {"field": "i", "type": "quantitative", "scale": {"domain": [-0.634, 295.55], "nice": false, "zero": false}, "axis": {"orient": "bottom", "values": [0, 26, 42, 55, 78, 96, 118, 138, 160, 183, 202, 224, 246, 267, 288], "labelExpr": "datum.value == 0 ? '2017/12/04' : datum.value == 26 ? '2018/01' : datum.value == 42 ? '02' : datum.value == 55 ? '03' : datum.value == 78 ? '04' : datum.value == 96 ? '05' : datum.value == 118 ? '06' : datum.value == 138 ? '07' : datum.value == 160 ? '08' : datum.value == 183 ? '09' : datum.value == 202 ? '10' : datum.value == 224 ? '11' : datum.value == 246 ? '12' : datum.value == 267 ? '2019/01' : '02'", "grid": true, "ticks": true, "tickSize": 8, "tickColor": "#1e88d0", "domain": false, "title": null, "labelPadding": 3, "labelFont": "'DejaVu Sans Condensed', 'Liberation Sans Narrow', 'DejaVu Sans'", "labelFontSize": 18, "labelColor": "#1e88d0", "labelFontWeight": {"condition": {"test": "datum.value == 26 || datum.value == 267", "value": "bold"}, "value": "normal"}, "labelFlush": 5, "labelOverlap": false, "labelBound": false}}, "y": {"field": "v", "type": "quantitative", "scale": {"domain": [-0.0015, 0.001], "nice": false, "zero": false}, "axis": {"orient": "right", "values": [-0.001, -0.0005, 0, 0.0005], "labelExpr": "datum.value < -0.00075 ? '-0.0010' : datum.value < -0.00025 ? '-0.0005' : datum.value < 0.00025 ? '0.0000' : '0.0005'", "grid": true, "ticks": false, "domain": false, "title": null, "labelPadding": 4, "labelFont": "DejaVu Sans", "labelFontWeight": "bold", "labelFontSize": 15, "labelColor": "#000000", "labelAlign": "left", "labelBaseline": "middle", "labelOverlap": false, "labelBound": false}}}},
{"data": {"name": "quote"}, "mark": {"type": "text", "font": "Noto Sans CJK TC", "fontSize": 16, "color": "#000000"}, "encoding": {"text": {"field": "indicator", "type": "nominal"}, "x": {"datum": -0.22, "type": "quantitative", "scale": {"domain": [-0.634, 295.55], "nice": false, "zero": false}, "axis": null}, "y": {"datum": 0.000875, "type": "quantitative", "scale": {"domain": [-0.0015, 0.001], "nice": false, "zero": false}, "axis": null}}},
{"data": {"name": "quote"}, "mark": {"type": "text", "font": "DejaVu Sans", "fontWeight": "bold", "fontSize": 15.5, "color": "#9933ff"}, "encoding": {"text": {"field": "emvText", "type": "nominal"}, "x": {"datum": 27.82, "type": "quantitative", "scale": {"domain": [-0.634, 295.55], "nice": false, "zero": false}, "axis": null}, "y": {"datum": 0.000875, "type": "quantitative", "scale": {"domain": [-0.0015, 0.001], "nice": false, "zero": false}, "axis": null}}},
{"data": {"name": "quote"}, "mark": {"type": "text", "text": "⬇", "font": "DejaVu Sans", "fontWeight": "bold", "fontSize": 18, "color": "#008a00"}, "encoding": {"x": {"datum": 48.67, "type": "quantitative", "scale": {"domain": [-0.634, 295.55], "nice": false, "zero": false}, "axis": null}, "y": {"datum": 0.000875, "type": "quantitative", "scale": {"domain": [-0.0015, 0.001], "nice": false, "zero": false}, "axis": null}}},
{"data": {"name": "quote"}, "mark": {"type": "text", "font": "DejaVu Sans", "fontWeight": "bold", "fontSize": 15.5, "color": "#ff0000"}, "encoding": {"text": {"field": "emvaText", "type": "nominal"}, "x": {"datum": 54.51, "type": "quantitative", "scale": {"domain": [-0.634, 295.55], "nice": false, "zero": false}, "axis": null}, "y": {"datum": 0.000875, "type": "quantitative", "scale": {"domain": [-0.0015, 0.001], "nice": false, "zero": false}, "axis": null}}},
{"data": {"name": "quote"}, "mark": {"type": "text", "text": "⬇", "font": "DejaVu Sans", "fontWeight": "bold", "fontSize": 18, "color": "#008a00"}, "encoding": {"x": {"datum": 77.96, "type": "quantitative", "scale": {"domain": [-0.634, 295.55], "nice": false, "zero": false}, "axis": null}, "y": {"datum": 0.000875, "type": "quantitative", "scale": {"domain": [-0.0015, 0.001], "nice": false, "zero": false}, "axis": null}}}
]
}
]
}
